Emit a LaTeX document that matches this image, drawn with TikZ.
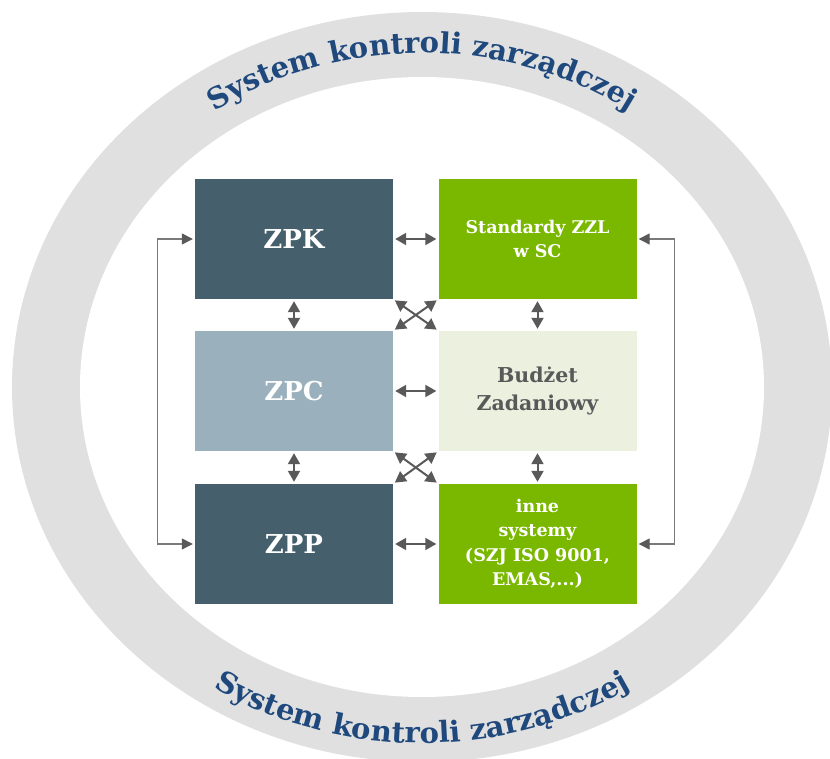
\documentclass[tikz,border=0pt]{standalone}
\usepackage{fontspec}
\setmainfont{DejaVu Serif}
\usetikzlibrary{arrows.meta,decorations.text}

\definecolor{ringgray}{HTML}{E0E0E0}
\definecolor{arcblue}{HTML}{1F497D}
\definecolor{slate}{HTML}{465F6D}
\definecolor{slatelight}{HTML}{9AB0BC}
\definecolor{leaf}{HTML}{7AB800}
\definecolor{pale}{HTML}{EBF0DF}
\definecolor{ink}{HTML}{595959}
\definecolor{wire}{HTML}{7A7A7A}

\newcommand{\arcfont}{\fontsize{29}{33}\selectfont\bfseries\color{arcblue}}

\begin{document}
\begin{tikzpicture}[x=1pt,y=1pt,
  box/.style={minimum width=198pt, minimum height=120pt, inner sep=0pt,
              align=center, font=\bfseries},
  bigbox/.style={box, text=white, font=\fontsize{26}{30}\selectfont\bfseries},
  smallbox/.style={box, text=white, font=\fontsize{17.5}{24.5}\selectfont\bfseries},
  link/.style={draw=ink, line width=2pt,
               {Triangle[length=11pt,width=12pt]}-{Triangle[length=11pt,width=12pt]},
               shorten <=2pt, shorten >=2pt},
  side/.style={draw=wire, line width=1.3pt,
               {Triangle[length=11pt,width=11pt,color=ink]}-{Triangle[length=11pt,width=11pt,color=ink]},
               shorten <=2pt, shorten >=2pt}]

\useasboundingbox (0,0) rectangle (830,758);

% ring
\begin{scope}
  \clip (0,0) rectangle (830,758);
  \fill[ringgray] (422,371) ellipse [x radius=410, y radius=375];
  \fill[white] (422,371) ellipse [x radius=342, y radius=310];
\end{scope}

% captions along the ring
\path[decorate, decoration={text along path, text align=center,
      text={|\arcfont|System kontroli zarządczej}}]
  (422,371) ++(160:368pt and 334pt)
  arc[start angle=160, end angle=20, x radius=368pt, y radius=334pt];
\path[decorate, decoration={text along path, text align=center,
      text={|\arcfont|System kontroli zarządczej}}]
  (422,371) ++(200:390pt and 356pt)
  arc[start angle=200, end angle=340, x radius=390pt, y radius=356pt];

% blocks
\node[bigbox, fill=slate]      (zpk) at (294,519) {ZPK};
\node[bigbox, fill=slatelight] (zpc) at (294,367) {ZPC};
\node[bigbox, fill=slate]      (zpp) at (294,214) {ZPP};
\node[smallbox, fill=leaf]     (std) at (537.5,519) {Standardy ZZL\\w SC};
\node[box, fill=pale, text=ink, font=\fontsize{20.5}{28}\selectfont\bfseries]
                               (bud) at (537.5,367) {Budżet\\Zadaniowy};
\node[smallbox, fill=leaf]     (inn) at (537.5,214) {inne\\systemy\\(SZJ ISO 9001,\\EMAS,...)};

% links between neighbouring blocks
\draw[link] (zpk.east) -- (std.west);
\draw[link] (zpc.east) -- (bud.west);
\draw[link] (zpp.east) -- (inn.west);
\draw[link] (zpk.south) -- (zpc.north);
\draw[link] (zpc.south) -- (zpp.north);
\draw[link] (std.south) -- (bud.north);
\draw[link] (bud.south) -- (inn.north);
\draw[link] (zpk.south east) -- (bud.north west);
\draw[link] (std.south west) -- (zpc.north east);
\draw[link] (zpc.south east) -- (inn.north west);
\draw[link] (bud.south west) -- (zpp.north east);

% outer loops
\draw[side] (zpk.west) -- ++(-37,0) |- (zpp.west);
\draw[side] (std.east) -- ++(37.5,0) |- (inn.east);
\end{tikzpicture}
\end{document}
